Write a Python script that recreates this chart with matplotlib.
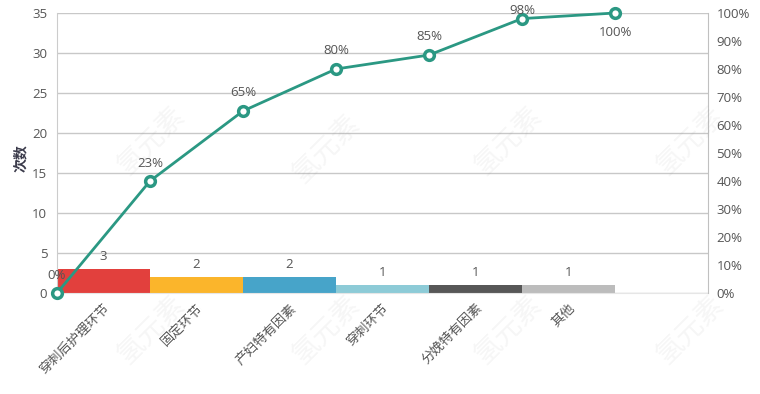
import matplotlib
matplotlib.use("Agg")
import matplotlib.pyplot as plt
import numpy as np

plt.rcParams['font.family'] = ['Open Sans', 'Noto Sans CJK SC', 'DejaVu Sans']

# data
categories = ['穿刺后护理环节', '固定环节', '产妇特有因素', '穿刺环节', '分娩特有因素', '其他']
counts = [3, 2, 2, 1, 1, 1]
bar_colors = ['#e2403d', '#fbb52b', '#47a4c9', '#8dcbd7', '#575757', '#bcbcbc']
cum_pct = [0, 40, 65, 80, 85, 98, 100]
cum_labels = ['0%', '23%', '65%', '80%', '85%', '98%', '100%']

line_color = '#2b9883'
text_color = '#555555'

fig = plt.figure(figsize=(7.6, 3.94), dpi=100)
ax = fig.add_axes([0.075, 0.2563, 0.8566, 0.7107])
ax.set_facecolor('none')

# bars, one band per category (plus an empty band at the end)
xb = np.arange(len(categories)) + 0.5
ax.bar(xb, counts, width=1.0, color=bar_colors, zorder=2)
for x, c in zip(xb, counts):
    ax.annotate(str(c), (x, c), xytext=(0, 13), textcoords='offset pixels',
                ha='center', va='center', fontsize=9.5, color=text_color)

ax.set_xlim(0, len(categories) + 1)
ax.set_ylim(0, 35)
ax.set_yticks(np.arange(0, 36, 5))
ax.yaxis.grid(True, color='#c8c8c8', linewidth=1, zorder=0)
ax.set_axisbelow(True)
ax.set_xticks(xb)
ax.set_xticklabels(categories, rotation=45, ha='right', rotation_mode='anchor',
                   fontsize=9.5, color=text_color)
ax.tick_params(axis='both', length=0, labelsize=9.5, labelcolor=text_color)
ax.tick_params(axis='x', pad=6)
ax.tick_params(axis='y', pad=7)
for s in ['top', 'right']:
    ax.spines[s].set_visible(False)
ax.spines['left'].set_color('#cccccc')
ax.spines['bottom'].set_color('#e6e6e6')
ax.set_ylabel('次数', fontsize=10, color='#3a3a4a', fontweight='bold')
ax.yaxis.set_label_coords(-0.045, 0.48)

# cumulative percentage line on secondary axis
ax2 = ax.twinx()
ax2.set_ylim(0, 100)
ax2.set_yticks(np.arange(0, 101, 10))
ax2.set_yticklabels([f'{v}%' for v in range(0, 101, 10)])
ax2.tick_params(axis='y', length=0, labelsize=9.5, labelcolor=text_color, pad=6)
for s in ['top', 'left', 'bottom']:
    ax2.spines[s].set_visible(False)
ax2.spines['right'].set_color('#c0c0c0')

xl = np.arange(len(cum_pct))
ax2.plot(xl, cum_pct, color=line_color, linewidth=2, marker='o', markersize=7,
         markerfacecolor='white', markeredgecolor=line_color, markeredgewidth=2.5,
         zorder=5, clip_on=False)
label_offsets = [18, 18, 19, 19, 19, 8, -19]
for x, v, t, dy in zip(xl, cum_pct, cum_labels, label_offsets):
    ax2.annotate(t, (x, v), xytext=(0, dy), textcoords='offset pixels',
                 ha='center', va='center', fontsize=9.5, color=text_color, zorder=6)

# faint watermark
wm_pos = [(0.20, 0.64), (0.43, 0.62), (0.67, 0.64), (0.91, 0.64),
          (0.20, 0.16), (0.43, 0.16), (0.67, 0.16), (0.91, 0.16)]
for px, py in wm_pos:
    fig.text(px, py, '氢元素', rotation=45, fontsize=20, color='#888888', alpha=0.08,
             ha='center', va='center', zorder=0)

fig.savefig('out.png', dpi=100)
